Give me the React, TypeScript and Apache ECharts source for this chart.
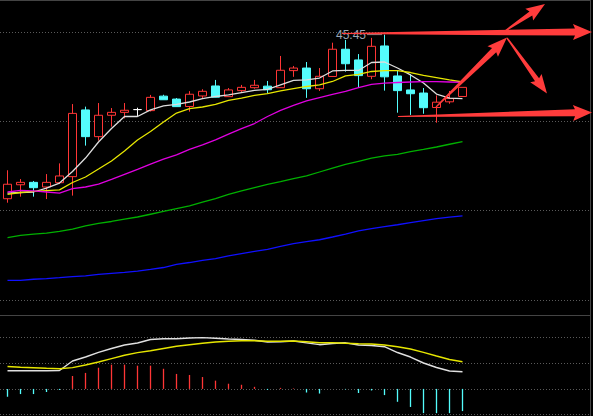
import React, { useEffect, useRef } from "react";
import * as echarts from "echarts";

// 45 trading-day slots (36 with data, the rest blank space on the right)
const categories: string[] = Array.from({ length: 45 }, (_, i) => "D" + (i + 1));

const opens = [35.93, 36.74, 36.88, 36.61, 36.86, 37.21, 41.08, 39.53, 40.77, 40.94, 41.10, 41.04, 41.88, 41.71, 41.28, 41.89, 42.47, 41.85, 42.20, 42.37, 42.46, 42.37, 43.36, 43.51, 42.31, 43.02, 44.60, 43.98, 43.03, 44.79, 43.05, 42.24, 42.06, 41.22, 41.55, 41.86];
const closes = [36.77, 36.88, 36.57, 36.88, 37.25, 40.88, 39.53, 40.77, 40.94, 41.06, 41.10, 41.81, 41.67, 41.27, 41.99, 42.16, 41.82, 42.24, 42.39, 42.51, 42.25, 43.38, 43.51, 42.31, 43.03, 44.60, 43.76, 43.07, 44.77, 43.00, 42.20, 42.02, 41.21, 41.53, 41.74, 42.39];
const lows = [35.70, 36.05, 36.05, 35.91, 36.78, 36.11, 39.01, 39.30, 40.11, 40.59, 40.73, 40.99, 41.67, 41.27, 40.98, 41.73, 41.82, 41.85, 42.10, 42.31, 42.04, 42.37, 43.00, 41.78, 42.18, 42.99, 43.30, 42.37, 42.86, 42.20, 40.92, 40.79, 40.86, 40.34, 41.44, 41.86];
const highs = [37.58, 37.07, 36.96, 37.36, 37.98, 41.42, 41.27, 41.48, 41.19, 41.48, 41.21, 41.95, 41.96, 41.77, 42.17, 42.28, 42.82, 42.35, 42.53, 42.82, 42.76, 44.21, 43.63, 43.86, 43.51, 44.98, 45.14, 44.32, 45.26, 45.45, 43.38, 43.15, 42.35, 41.92, 42.18, 42.39];

const ma5 = [36.26, 36.29, 36.32, 36.55, 36.84, 37.51, 38.29, 39.22, 40.00, 40.70, 40.70, 41.08, 41.31, 41.40, 41.54, 41.74, 41.86, 41.95, 42.09, 42.22, 42.27, 42.53, 42.79, 42.82, 42.93, 43.34, 43.37, 43.37, 43.83, 43.86, 43.51, 43.11, 42.64, 42.00, 41.77, 41.74];
const ma10 = [36.18, 36.29, 36.36, 36.40, 36.44, 36.87, 37.19, 37.65, 38.12, 38.70, 39.34, 39.83, 40.38, 40.90, 41.16, 41.25, 41.40, 41.63, 41.77, 41.92, 42.03, 42.18, 42.32, 42.44, 42.53, 42.73, 43.05, 43.14, 43.31, 43.36, 43.36, 43.25, 43.08, 42.96, 42.82, 42.70];
const ma20 = [36.32, 36.41, 36.38, 36.32, 36.26, 36.51, 36.61, 36.78, 37.05, 37.34, 37.63, 37.94, 38.23, 38.47, 38.79, 39.05, 39.34, 39.68, 40.00, 40.29, 40.70, 41.05, 41.34, 41.60, 41.80, 41.98, 42.15, 42.38, 42.56, 42.64, 42.67, 42.70, 42.72, 42.72, 42.70, 42.68];
const ma60 = [33.68, 33.80, 33.88, 33.94, 34.04, 34.17, 34.35, 34.50, 34.61, 34.75, 34.87, 35.03, 35.19, 35.35, 35.51, 35.73, 35.94, 36.18, 36.39, 36.58, 36.76, 36.92, 37.09, 37.25, 37.48, 37.71, 37.92, 38.10, 38.28, 38.41, 38.50, 38.66, 38.79, 38.93, 39.09, 39.24];
const ma120 = [31.20, 31.20, 31.26, 31.30, 31.35, 31.41, 31.46, 31.54, 31.60, 31.66, 31.73, 31.83, 31.94, 32.12, 32.23, 32.35, 32.45, 32.62, 32.75, 32.87, 32.99, 33.16, 33.32, 33.44, 33.55, 33.71, 33.88, 34.06, 34.20, 34.31, 34.42, 34.54, 34.66, 34.78, 34.86, 34.93];

const dif = [0.353, 0.353, 0.353, 0.353, 0.357, 0.541, 0.618, 0.709, 0.783, 0.851, 0.890, 0.957, 0.971, 0.973, 0.986, 0.994, 0.981, 0.967, 0.957, 0.942, 0.909, 0.915, 0.928, 0.893, 0.857, 0.880, 0.893, 0.851, 0.841, 0.818, 0.705, 0.618, 0.502, 0.415, 0.347, 0.333];
const dea = [0.434, 0.419, 0.409, 0.399, 0.391, 0.413, 0.463, 0.521, 0.587, 0.653, 0.702, 0.740, 0.783, 0.826, 0.855, 0.884, 0.909, 0.924, 0.932, 0.932, 0.924, 0.924, 0.928, 0.913, 0.895, 0.895, 0.884, 0.874, 0.870, 0.851, 0.816, 0.773, 0.709, 0.638, 0.570, 0.527];
const macdHist = [-0.15, -0.10, -0.10, -0.06, -0.02, 0.25, 0.31, 0.41, 0.47, 0.47, 0.45, 0.45, 0.39, 0.29, 0.27, 0.23, 0.16, 0.10, 0.08, 0.04, -0.02, 0.02, 0.01, -0.07, -0.09, 0, -0.01, -0.08, -0.03, -0.12, -0.25, -0.35, -0.47, -0.47, -0.47, -0.43];

const RED = "#ff3636";
const CYAN = "#54fcfc";
const ARROW = "#ff3c3c";
const GRIDC = "#5a5a5a";
const BORDER = "#444444";

function arrowPoints(sx: number, sy: number, ex: number, ey: number, w0: number, w1: number, hw: number, hl: number) {
  const dx = ex - sx, dy = ey - sy;
  const len = Math.sqrt(dx * dx + dy * dy);
  const ux = dx / len, uy = dy / len;
  const nx = -uy, ny = ux;
  const bx = ex - ux * hl, by = ey - uy * hl;
  return [
    [sx + nx * w0 / 2, sy + ny * w0 / 2],
    [bx + nx * w1 / 2, by + ny * w1 / 2],
    [bx + nx * hw / 2 - ux * 2, by + ny * hw / 2 - uy * 2],
    [ex, ey],
    [bx - nx * hw / 2 - ux * 2, by - ny * hw / 2 - uy * 2],
    [bx - nx * w1 / 2, by - ny * w1 / 2],
    [sx - nx * w0 / 2, sy - ny * w0 / 2],
  ];
}

export default function App() {
  const ref = useRef<HTMLDivElement>(null);
  useEffect(() => {
    if (!ref.current) return;
    const chart = echarts.init(ref.current, null, { renderer: "svg" });

    const candleData = opens.map((o, i) => {
      const v = [o, closes[i], lows[i], highs[i]];
      if (o === closes[i]) {
        return {
          value: v,
          itemStyle: { color: "#ffffff", color0: "#ffffff", borderColor: "#ffffff", borderColor0: "#ffffff", borderColorDoji: "#ffffff" },
        };
      }
      return { value: v };
    });

    const maLine = (name: string, data: number[], color: string, w = 1.3) => ({
      name,
      type: "line",
      xAxisIndex: 0,
      yAxisIndex: 0,
      data,
      symbol: "none",
      silent: true,
      z: 4,
      lineStyle: { color, width: w },
    });

    const arrows = [
      arrowPoints(342, 33.5, 592, 32, 1.2, 7, 16, 17),
      arrowPoints(398, 116.5, 592, 112.5, 1, 7, 16, 17),
      arrowPoints(436, 107, 507, 37.5, 1.2, 6, 15, 18),
      arrowPoints(505, 31, 545, 4, 1.5, 5, 14, 17),
      arrowPoints(507, 38, 547, 93.5, 1.5, 5, 14, 17),
    ];

    const option: any = {
      animation: false,
      backgroundColor: "#000000",
      grid: [
        { left: 1, width: 585, top: 32, height: 268 },
        { left: 1, width: 585, top: 337.3, height: 77.4 },
        { left: 0, width: 590, top: 32, height: 268 },
        { left: 0, width: 590, top: 337.3, height: 77.4 },
      ],
      xAxis: [
        { type: "category", gridIndex: 0, data: categories, boundaryGap: true, show: false },
        { type: "category", gridIndex: 1, data: categories, boundaryGap: true, show: false },
        { type: "value", gridIndex: 2, min: 0, max: 1, show: false },
        { type: "value", gridIndex: 3, min: 0, max: 1, show: false },
      ],
      yAxis: [
        { type: "value", gridIndex: 0, min: 30.056, max: 45.6, show: false },
        { type: "value", gridIndex: 1, min: -0.5, max: 1.0, show: false },
        {
          type: "value", gridIndex: 2, min: 0, max: 3, interval: 1,
          axisLine: { show: false }, axisTick: { show: false }, axisLabel: { show: false },
          splitLine: { show: true, lineStyle: { color: GRIDC, type: [1, 2], width: 1 } },
        },
        {
          type: "value", gridIndex: 3, min: 0, max: 3, interval: 1,
          axisLine: { show: false }, axisTick: { show: false }, axisLabel: { show: false },
          splitLine: { show: true, lineStyle: { color: GRIDC, type: [1, 2], width: 1 } },
        },
      ],
      series: [
        {
          name: "K",
          type: "candlestick",
          xAxisIndex: 0,
          yAxisIndex: 0,
          data: candleData,
          barWidth: 9,
          z: 3,
          itemStyle: {
            color: "#000000",
            color0: CYAN,
            borderColor: RED,
            borderColor0: CYAN,
            borderWidth: 1,
          },
          markPoint: {
            symbol: "rect",
            symbolSize: 1,
            itemStyle: { color: "rgba(0,0,0,0)" },
            data: [{ coord: [categories[29], highs[29]], value: highs[29] }],
            label: {
              show: true,
              position: "left",
              distance: 2,
              formatter: (p: any) => "{t|" + Number(p.value).toFixed(2) + "}{l|}",
              rich: {
                t: { color: "#9aa6b4", fontSize: 12, fontFamily: "Liberation Sans", padding: [0, 1, 0, 0] },
                l: { width: 15, height: 1, backgroundColor: "#8c8c8c" },
              },
            },
            z: 6,
          },
        },
        maLine("MA5", ma5, "#dddddd"),
        maLine("MA10", ma10, "#e6e600"),
        maLine("MA20", ma20, "#e000e0"),
        maLine("MA60", ma60, "#00b000"),
        maLine("MA120", ma120, "#1010ff"),
        {
          name: "MACD",
          type: "bar",
          xAxisIndex: 1,
          yAxisIndex: 1,
          data: macdHist,
          barWidth: 1.3,
          silent: true,
          itemStyle: { color: (p: any) => (p.value >= 0 ? RED : CYAN) },
        },
        {
          name: "DIF", type: "line", xAxisIndex: 1, yAxisIndex: 1, data: dif, symbol: "none", silent: true,
          lineStyle: { color: "#e0e0e0", width: 1.4 },
        },
        {
          name: "DEA", type: "line", xAxisIndex: 1, yAxisIndex: 1, data: dea, symbol: "none", silent: true,
          lineStyle: { color: "#e6e600", width: 1.4 },
        },
      ],
      graphic: [
        { type: "line", shape: { x1: 0, y1: 0.5, x2: 591, y2: 0.5 }, style: { stroke: BORDER, lineWidth: 1 }, z: 1 },
        { type: "line", shape: { x1: 0, y1: 315.5, x2: 591, y2: 315.5 }, style: { stroke: BORDER, lineWidth: 1 }, z: 1 },
        { type: "line", shape: { x1: 590.5, y1: 0, x2: 590.5, y2: 416 }, style: { stroke: BORDER, lineWidth: 1 }, z: 1 },
        ...arrows.map((pts) => ({
          type: "polygon",
          shape: { points: pts },
          style: { fill: ARROW },
          z: 100,
          silent: true,
        })),
      ],
    };

    chart.setOption(option);
    return () => chart.dispose();
  }, []);

  return (
    <div
      ref={ref}
      style={{ position: "fixed", left: 0, top: 0, width: 593, height: 416, background: "#000" }}
    />
  );
}
